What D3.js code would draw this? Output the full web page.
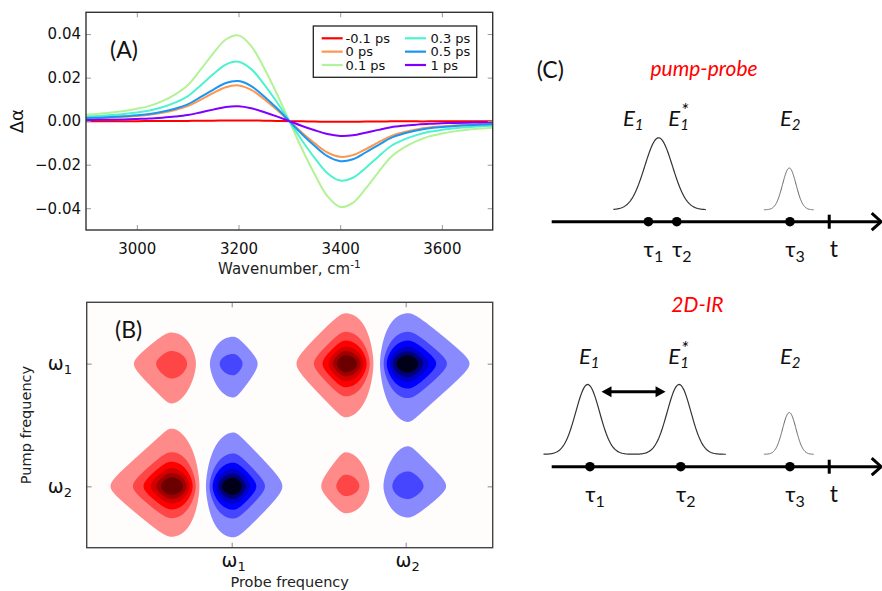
<!DOCTYPE html>
<html><head><meta charset="utf-8">
<script src="https://cdn.jsdelivr.net/npm/d3@7"></script>
<style>
body{margin:0;background:#fff;}
svg{display:block;}
</style></head>
<body>
<svg id="fig" width="882" height="591"></svg>
<script>
// ================= Panel A data =================
const wavenumbers = [2900,2925,2950,2975,3000,3025,3050,3075,3100,3125,3150,3175,3200,3225,3250,3275,3300,
                     3325,3350,3375,3400,3425,3450,3475,3500,3525,3550,3575,3600,3625,3650,3675,3700];
const delayLabels = ["-0.1 ps","0 ps","0.1 ps","0.3 ps","0.5 ps","1 ps"];
const delayColors = ["#ff0000","#ff964f","#b3f296","#4df2ce","#1a96f2","#8000ff"];
const dA_m01 = [0,0,0,0,0,0.0001,0.0001,0.0001,0.0001,0.0002,0.0002,0.0003,0.0003,0.0003,0.0002,0.0001,0,
                -0.0001,-0.0002,-0.0003,-0.0003,-0.0003,-0.0002,-0.0002,-0.0001,-0.0001,-0.0001,-0.0001,0,0,0,0,0];
const dA_0   = [0.0012,0.0014,0.0017,0.0020,0.0024,0.0029,0.0038,0.0051,0.0069,0.0098,0.0129,0.0156,0.0164,0.0144,0.0102,0.0053,0,
                -0.0053,-0.0102,-0.0144,-0.0164,-0.0156,-0.0129,-0.0098,-0.0069,-0.0051,-0.0038,-0.0029,-0.0024,-0.0020,-0.0017,-0.0014,-0.0012];
const dA_01  = [0.0030,0.0034,0.0040,0.0047,0.0057,0.0070,0.0092,0.0122,0.0165,0.0235,0.0310,0.0375,0.0394,0.0345,0.0245,0.0128,0,
                -0.0128,-0.0245,-0.0345,-0.0394,-0.0375,-0.0310,-0.0235,-0.0165,-0.0122,-0.0092,-0.0070,-0.0057,-0.0047,-0.0040,-0.0034,-0.0030];
const dA_03  = [0.0021,0.0024,0.0028,0.0033,0.0040,0.0049,0.0064,0.0085,0.0114,0.0163,0.0215,0.0260,0.0273,0.0239,0.0170,0.0089,0,
                -0.0089,-0.0170,-0.0239,-0.0273,-0.0260,-0.0215,-0.0163,-0.0114,-0.0085,-0.0064,-0.0049,-0.0040,-0.0033,-0.0028,-0.0024,-0.0021];
const dA_05  = [0.0014,0.0016,0.0019,0.0022,0.0027,0.0033,0.0043,0.0057,0.0077,0.0110,0.0144,0.0175,0.0184,0.0161,0.0114,0.0060,0,
                -0.0060,-0.0114,-0.0161,-0.0184,-0.0175,-0.0144,-0.0110,-0.0077,-0.0057,-0.0043,-0.0033,-0.0027,-0.0022,-0.0019,-0.0016,-0.0014];
const dA_1   = [0.0005,0.0006,0.0007,0.0008,0.0010,0.0012,0.0016,0.0021,0.0028,0.0040,0.0053,0.0065,0.0068,0.0059,0.0042,0.0022,0,
                -0.0022,-0.0042,-0.0059,-0.0068,-0.0065,-0.0053,-0.0040,-0.0028,-0.0021,-0.0016,-0.0012,-0.0010,-0.0008,-0.0007,-0.0006,-0.0005];
const seriesA = [dA_m01, dA_0, dA_01, dA_03, dA_05, dA_1];
const xTicksA = [3000,3200,3400,3600];
const yTicksA = [-0.04,-0.02,0,0.02,0.04];

// ================= Panel B data (2D-IR lobes) =================
const lobeProbe = [1.46, 2.53, 4.46, 5.54, 1.46, 2.53, 4.46, 5.54];   // lobe extremum (probe axis)
const lobePump  = [1, 1, 1, 1, 3, 3, 3, 3];                           // pump axis
const lobeNode  = [2.0, 2.0, 5.0, 5.0, 2.0, 2.0, 5.0, 5.0];           // zero crossing of the pair
const lobeAmp   = [1.0, -1.0, 0.31, -0.345, 0.345, -0.31, 1.0, -1.0];
const lobeWidthOut  = [0.303, 0.249, 0.209, 0.294, 0.289, 0.209, 0.249, 0.306];
const lobeWidthUp   = [0.252, 0.243, 0.248, 0.262, 0.227, 0.209, 0.237, 0.237];
const lobeWidthDown = [0.237, 0.240, 0.209, 0.227, 0.262, 0.246, 0.242, 0.254];
const peakShape = {alpha:0.48, k:0.42, rise:1.5};
const contourLevels = [1/14, 3/14, 5/14, 7/14, 9/14, 11/14];
const redShades  = ["#ff8a8a","#ff4646","#ff0000","#d20000","#a20000","#6c0000"];
const blueShades = ["#8a8aff","#4646ff","#0000ff","#0000c8","#00007a","#00001a"];
const probeTicks = [2.5, 5.5];
const pumpTicks  = [1, 3];
const tickSubs = {2.5:"1", 5.5:"2", 3:"1", 1:"2"};

// ================= Panel C data =================
const ppTau = [2.93, 3.79, 7.22];
const irTau = [1.16, 3.91, 7.22];
const tMark = 8.41;
const ppPulses = [ {center:3.24, sigma:0.42, height:1.0, from:1.87, to:4.67, w:1.2, c:"#333"},
                   {center:7.20, sigma:0.205, height:0.58, from:6.43, to:7.94, w:1.0, c:"#666"} ];
const irPulseTrain = {centers:[1.09, 3.86], sigma:0.36, height:0.97, from:-0.25, to:5.28};
const irPulseE2 = {center:7.20, sigma:0.205, height:0.58, from:6.43, to:7.94};

const svg = d3.select("#fig");
svg.append("rect").attr("width",882).attr("height",591).attr("fill","#fff");
const defs = svg.append("defs");

function styleAxis(g, tickColor){
  g.select(".domain").remove();
  g.selectAll(".tick line").attr("stroke", tickColor).attr("stroke-width",1);
  g.attr("font-family", null).attr("font-size", null);
}

// ================= Panel A =================
const A = {x0:86, x1:492.7, y0:12.3, y1:230};
const xA = d3.scaleLinear().domain([2900,3700]).range([A.x0,A.x1]);
const yA = d3.scaleLinear().domain([-0.05,0.05]).range([A.y1,A.y0]);
const gA = svg.append("g");
defs.append("clipPath").attr("id","clipA").append("rect")
  .attr("x",A.x0).attr("y",A.y0).attr("width",A.x1-A.x0).attr("height",A.y1-A.y0);
const lineA = d3.line().x((d,i)=>xA(wavenumbers[i])).y(d=>yA(d)).curve(d3.curveCatmullRom.alpha(0.5));
seriesA.forEach((s,k)=>{
  gA.append("path").attr("d",lineA(s)).attr("fill","none")
    .attr("stroke",delayColors[k]).attr("stroke-width",2).attr("clip-path","url(#clipA)");
});
const fmtA = d3.format(".2f");
gA.append("g").attr("transform",`translate(0,${A.y1})`)
  .call(d3.axisBottom(xA).tickValues(xTicksA).tickSizeInner(-5).tickSizeOuter(0).tickPadding(13).tickFormat(d3.format("d")))
  .call(g=>styleAxis(g,"#999"))
  .selectAll("text").attr("font-family","DejaVu Sans").attr("font-size",15).attr("fill","#111");
gA.append("g").attr("transform",`translate(0,${A.y0})`)
  .call(d3.axisTop(xA).tickValues(xTicksA).tickSizeInner(-5).tickSizeOuter(0).tickFormat(""))
  .call(g=>styleAxis(g,"#999"));
gA.append("g").attr("transform",`translate(${A.x0},0)`)
  .call(d3.axisLeft(yA).tickValues(yTicksA).tickSizeInner(-5).tickSizeOuter(0).tickPadding(5).tickFormat(fmtA))
  .call(g=>styleAxis(g,"#999"))
  .selectAll("text").attr("font-family","DejaVu Sans").attr("font-size",15).attr("fill","#111");
gA.append("g").attr("transform",`translate(${A.x1},0)`)
  .call(d3.axisRight(yA).tickValues(yTicksA).tickSizeInner(-5).tickSizeOuter(0).tickFormat(""))
  .call(g=>styleAxis(g,"#999"));
gA.append("rect").attr("x",A.x0).attr("y",A.y0).attr("width",A.x1-A.x0).attr("height",A.y1-A.y0)
  .attr("fill","none").attr("stroke","#333").attr("stroke-width",1.4);
const xl = gA.append("text").attr("x",(A.x0+A.x1)/2).attr("y",273.5).attr("text-anchor","middle")
  .attr("font-family","DejaVu Sans").attr("font-size",15).attr("fill","#222");
xl.append("tspan").text("Wavenumber, cm");
xl.append("tspan").attr("dy",-6).attr("font-size",10.5).text("-1");
gA.append("text").attr("transform",`translate(23,${yA(0)}) rotate(-90)`).attr("text-anchor","middle")
  .attr("font-family","DejaVu Sans").attr("font-size",18).attr("fill","#111").text("Δα");
gA.append("text").attr("x",110).attr("y",58).attr("font-family","Lato, 'Open Sans', sans-serif")
  .attr("font-size",23).attr("fill","#111").text("(A)");
// legend
const lg = gA.append("g");
lg.append("rect").attr("x",313.3).attr("y",26).attr("width",163.4).attr("height",51.3)
  .attr("fill","#fff").attr("stroke","#222").attr("stroke-width",1.3);
delayLabels.forEach((lab,k)=>{
  const col = Math.floor(k/3), row = k%3;
  const lx = col===0 ? 321.7 : 405, tx = col===0 ? 345.5 : 430.5;
  const ly = 38.3 + row*13.35;
  lg.append("line").attr("x1",lx).attr("x2",lx+21).attr("y1",ly).attr("y2",ly)
    .attr("stroke",delayColors[k]).attr("stroke-width",2.2);
  lg.append("text").attr("x",tx).attr("y",ly).attr("dy","0.36em")
    .attr("font-family","DejaVu Sans").attr("font-size",13).attr("fill","#111").text(lab);
});

// ================= Panel B =================
const B = {x0:86.7, x1:492.7, y0:302.3, y1:547.7};
const xB = d3.scaleLinear().domain([0,7]).range([B.x0,B.x1]);
const yB = d3.scaleLinear().domain([0,4]).range([B.y1,B.y0]);
const gB = svg.append("g");
defs.append("clipPath").attr("id","clipB").append("rect")
  .attr("x",B.x0).attr("y",B.y0).attr("width",B.x1-B.x0).attr("height",B.y1-B.y0);
gB.append("rect").attr("x",B.x0).attr("y",B.y0).attr("width",B.x1-B.x0).attr("height",B.y1-B.y0).attr("fill","#fffcfc");
const cell = 1.0;
const nx = Math.ceil((B.x1-B.x0)/cell), ny = Math.ceil((B.y1-B.y0)/cell);
const field = new Array(nx*ny);
const prof = u => peakShape.k*(Math.sqrt(1+(u/peakShape.alpha)**2)-1);
for (let j=0;j<ny;j++){
  const yv = yB.invert(B.y0 + (j+0.5)*cell);
  for (let i=0;i<nx;i++){
    const xv = xB.invert(B.x0 + (i+0.5)*cell);
    let s = 0;
    for (let p=0;p<lobeAmp.length;p++){
      const side = Math.sign(lobeProbe[p]-lobeNode[p]);
      const rel = (xv-lobeNode[p])*side;
      if (rel <= 0) continue;
      const sIn = Math.abs(lobeProbe[p]-lobeNode[p]);
      let fx;
      if (rel < sIn){ const t = rel/sIn; fx = Math.pow(t,peakShape.rise)*Math.exp(peakShape.rise*0.5*(1-t*t)); }
      else fx = Math.exp(-prof((rel-sIn)/lobeWidthOut[p]));
      const dy = yv-lobePump[p];
      const v = dy/(dy>=0 ? lobeWidthUp[p] : lobeWidthDown[p]);
      s += lobeAmp[p]*fx*Math.exp(-prof(v));
    }
    field[j*nx+i] = s;
  }
}
const contourGen = d3.contours().size([nx,ny]).thresholds(contourLevels);
const proj = d3.geoTransform({point(x,y){ this.stream.point(B.x0 + x*cell, B.y0 + y*cell); }});
const cpath = d3.geoPath(proj);
const gC = gB.append("g").attr("clip-path","url(#clipB)");
contourGen(field).forEach((c,k)=> gC.append("path").attr("d",cpath(c)).attr("fill",redShades[k]));
contourGen(field.map(v=>-v)).forEach((c,k)=> gC.append("path").attr("d",cpath(c)).attr("fill",blueShades[k]));

gB.append("g").attr("transform",`translate(0,${B.y1})`)
  .call(d3.axisBottom(xB).tickValues(probeTicks).tickSizeInner(-5).tickSizeOuter(0).tickFormat(""))
  .call(g=>styleAxis(g,"#888"));
gB.append("g").attr("transform",`translate(0,${B.y0})`)
  .call(d3.axisTop(xB).tickValues(probeTicks).tickSizeInner(-5).tickSizeOuter(0).tickFormat(""))
  .call(g=>styleAxis(g,"#888"));
gB.append("g").attr("transform",`translate(${B.x0},0)`)
  .call(d3.axisLeft(yB).tickValues(pumpTicks).tickSizeInner(-5).tickSizeOuter(0).tickFormat(""))
  .call(g=>styleAxis(g,"#888"));
gB.append("g").attr("transform",`translate(${B.x1},0)`)
  .call(d3.axisRight(yB).tickValues(pumpTicks).tickSizeInner(-5).tickSizeOuter(0).tickFormat(""))
  .call(g=>styleAxis(g,"#888"));
gB.append("rect").attr("x",B.x0).attr("y",B.y0).attr("width",B.x1-B.x0).attr("height",B.y1-B.y0)
  .attr("fill","none").attr("stroke","#444").attr("stroke-width",1.4);
probeTicks.forEach(v=>{
  const t = gB.append("text").attr("x",xB(v)+2).attr("y",566.5).attr("text-anchor","middle")
    .attr("font-family","DejaVu Sans").attr("font-size",19).attr("fill","#111");
  t.append("tspan").text("ω");
  t.append("tspan").attr("dy",4).attr("font-size",13).text(tickSubs[v]);
});
pumpTicks.forEach(v=>{
  const t = gB.append("text").attr("x",72).attr("y",yB(v)+6.3).attr("text-anchor","end")
    .attr("font-family","DejaVu Sans").attr("font-size",19).attr("fill","#111");
  t.append("tspan").text("ω");
  t.append("tspan").attr("dy",4).attr("font-size",13).text(tickSubs[v]);
});
gB.append("text").attr("x",(B.x0+B.x1)/2).attr("y",587).attr("text-anchor","middle")
  .attr("font-family","DejaVu Sans").attr("font-size",14.5).attr("fill","#222").text("Probe frequency");
gB.append("text").attr("transform",`translate(31,${(B.y0+B.y1)/2}) rotate(-90)`).attr("text-anchor","middle")
  .attr("font-family","DejaVu Sans").attr("font-size",14.5).attr("fill","#222").text("Pump frequency");
gB.append("text").attr("x",115).attr("y",338).attr("font-family","Lato, 'Open Sans', sans-serif")
  .attr("font-size",23).attr("fill","#111").text("(B)");

// ================= Panel C =================
const xC = d3.scaleLinear().domain([0,10]).range([551.7,881.7]);
const pulseY = d3.scaleLinear().domain([0,1]).range([0,-72]);
const gCp = svg.append("g");
const FONT_C = "Lato, 'Noto Sans', sans-serif";
gCp.append("text").attr("x",536.7).attr("y",77.5).attr("font-family",FONT_C).attr("font-size",23).attr("fill","#111").text("(C)");
gCp.append("text").attr("x",704).attr("y",76).attr("text-anchor","middle").attr("font-family",FONT_C)
  .attr("font-style","italic").attr("font-size",21).attr("fill","#ff0000").text("pump-probe");
gCp.append("text").attr("x",697.5).attr("y",311.5).attr("text-anchor","middle").attr("font-family",FONT_C)
  .attr("font-style","italic").attr("font-size",21).attr("fill","#ff0000").text("2D-IR");

function timeAxis(axisY, taus){
  gCp.append("line").attr("x1",xC(0)).attr("x2",xC(10)-1.5).attr("y1",axisY).attr("y2",axisY)
    .attr("stroke","#000").attr("stroke-width",3);
  gCp.append("path").attr("d",`M${xC(10)-10},${axisY-8.5}L${xC(10)-0.5},${axisY}L${xC(10)-10},${axisY+8.5}`)
    .attr("fill","none").attr("stroke","#000").attr("stroke-width",3);
  gCp.append("line").attr("x1",xC(tMark)).attr("x2",xC(tMark)).attr("y1",axisY-7).attr("y2",axisY+7)
    .attr("stroke","#000").attr("stroke-width",3);
  taus.forEach((t,i)=>{
    gCp.append("circle").attr("cx",xC(t)).attr("cy",axisY).attr("r",4.8).attr("fill","#000");
    const tx = gCp.append("text").attr("x",xC(t)+5).attr("y",axisY+35).attr("text-anchor","middle")
      .attr("font-family",FONT_C).attr("font-size",22).attr("fill","#111");
    tx.append("tspan").text("τ");
    tx.append("tspan").attr("dy",5).attr("font-size",16).text(String(i+1));
  });
  gCp.append("text").attr("x",xC(tMark)+0.5).attr("y",axisY+35).attr("font-family",FONT_C)
    .attr("font-size",23).attr("fill","#111").text("t");
}
timeAxis(221.7, ppTau);
timeAxis(466.7, irTau);

function gaussPath(centers, sigma, height, from, to, base){
  const pts = d3.range(from, to+1e-9, (to-from)/160).map(t=>{
    let v = 0; centers.forEach(c=>{ v += height*Math.exp(-0.5*((t-c)/sigma)**2); });
    return [xC(t), base + pulseY(v)];
  });
  return d3.line()(pts);
}
ppPulses.forEach(p=>{
  gCp.append("path").attr("d",gaussPath([p.center],p.sigma,p.height,p.from,p.to,209.8))
    .attr("fill","none").attr("stroke",p.c).attr("stroke-width",p.w);
});
gCp.append("path").attr("d",gaussPath(irPulseTrain.centers,irPulseTrain.sigma,irPulseTrain.height,irPulseTrain.from,irPulseTrain.to,454.3))
  .attr("fill","none").attr("stroke","#333").attr("stroke-width",1.2);
gCp.append("path").attr("d",gaussPath([irPulseE2.center],irPulseE2.sigma,irPulseE2.height,irPulseE2.from,irPulseE2.to,454.3))
  .attr("fill","none").attr("stroke","#666").attr("stroke-width",1.0);

// double arrow between E1 and E1*
const ay = 391.7, ax1 = xC(1.51), ax2 = xC(3.45);
gCp.append("line").attr("x1",ax1+6).attr("x2",ax2-6).attr("y1",ay).attr("y2",ay).attr("stroke","#000").attr("stroke-width",3);
gCp.append("path").attr("d",`M${ax1},${ay}L${ax1+10},${ay-5.5}L${ax1+10},${ay+5.5}Z`).attr("fill","#000");
gCp.append("path").attr("d",`M${ax2},${ay}L${ax2-10},${ay-5.5}L${ax2-10},${ay+5.5}Z`).attr("fill","#000");

function eLabel(x, base, sub, star){
  const t = gCp.append("text").attr("x",x).attr("y",base).attr("font-family",FONT_C)
    .attr("font-style","italic").attr("fill","#111").attr("font-size",22);
  t.append("tspan").text("E");
  t.append("tspan").attr("dy",4).attr("font-size",15).text(sub);
  if (star) t.append("tspan").attr("dx",-8).attr("dy",-13).attr("font-size",20).text("*");
}
eLabel(623, 125.5, "1", false);
eLabel(668.3, 125.5, "1", true);
eLabel(780, 125.5, "2", false);
eLabel(579, 364.3, "1", false);
eLabel(668.3, 364.3, "1", true);
eLabel(780, 364.3, "2", false);
</script>
</body></html>
